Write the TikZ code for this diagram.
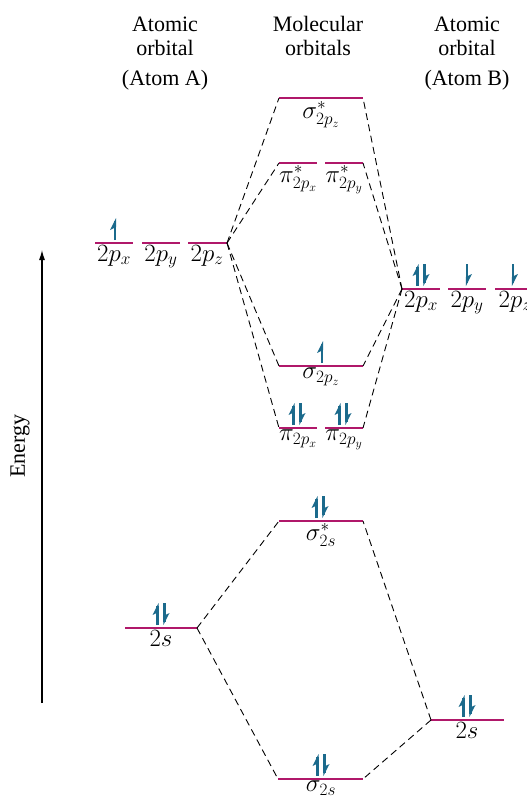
\documentclass[tikz,border=0pt]{standalone}
\usepackage{fontspec}
\setmainfont{Liberation Serif}
\usetikzlibrary{arrows.meta}
\definecolor{lvl}{HTML}{B0186A}
\definecolor{elec}{HTML}{1B6A8C}
\tikzset{
  x=1pt, y=-1pt,
  level/.style={draw=lvl, line width=2pt},
  link/.style={draw=black, line width=0.9pt, dash pattern=on 7pt off 4.5pt},
  hdr/.style={anchor=base, font=\fontsize{22}{25}\selectfont, inner sep=0pt},
  lab/.style={anchor=north, font=\fontsize{24}{27}\selectfont, inner sep=1pt},
  pics/eup/.style={code={
    \draw[elec, line width=2.2pt] (0,-2) -- (0,-21);
    \fill[elec] (1.1,-24) -- (-5,-12) -- (1.1,-15) -- cycle;
  }},
  pics/edown/.style={code={
    \draw[elec, line width=2.2pt] (0,-24) -- (0,-5);
    \fill[elec] (-1.1,-2) -- (5,-14) -- (-1.1,-11) -- cycle;
  }},
  pics/epair/.style={code={
    \pic at (-3.5,0) {eup};
    \pic at (3.5,0) {edown};
  }},
}
\begin{document}
\begin{tikzpicture}
\useasboundingbox (0,0) rectangle (527,803);
% headers
\node[hdr] (hA1) at (165,31) {Atomic};
\node[hdr] (hA2) at (165,55) {orbital};
\node[hdr] (hA3) at (165,85) {(Atom A)};
\node[hdr] (hM1) at (318,31) {Molecular};
\node[hdr] (hM2) at (318,55) {orbitals};
\node[hdr] (hB1) at (467,31) {Atomic};
\node[hdr] (hB2) at (467,55) {orbital};
\node[hdr] (hB3) at (467,85) {(Atom B)};
% energy axis
\coordinate (eb) at (42,703);
\coordinate (et) at (42,250);
\draw[line width=1.1pt, -{Latex[length=10pt,width=6pt]}] (eb) -- (et);
\node[rotate=90, font=\fontsize{22}{25}\selectfont] (energy) at (20,446) {Energy};
% left 2p
\draw[level] (95,243) coordinate (lpx1) -- (133,243) coordinate (lpx2);
\draw[level] (142,243) coordinate (lpy1) -- (180,243) coordinate (lpy2);
\draw[level] (188,243) coordinate (lpz1) -- (227,243) coordinate (lpz2);
\node[lab] (llx) at (114,244) {$2p_x$};
\node[lab] (lly) at (161,244) {$2p_y$};
\node[lab] (llz) at (207,244) {$2p_z$};
\pic at (115,242) {eup};
% right 2p
\draw[level] (402,289) coordinate (rpx1) -- (440,289) coordinate (rpx2);
\draw[level] (448,289) coordinate (rpy1) -- (486,289) coordinate (rpy2);
\draw[level] (495,289) coordinate (rpz1) -- (533,289) coordinate (rpz2);
\node[lab] (rlx) at (421,290) {$2p_x$};
\node[lab] (rly) at (467,290) {$2p_y$};
\node[lab] (rlz) at (515,290) {$2p_z$};
\pic at (421,288) {epair};
\pic at (467,288) {edown};
\pic at (513,288) {edown};
% sigma* 2pz
\draw[level] (279,98) coordinate (ss1) -- (363,98) coordinate (ss2);
\node[lab] (lss) at (321,100) {$\sigma^*_{2p_z}$};
% pi* 2p
\draw[level] (279,163) coordinate (psx1) -- (317,163) coordinate (psx2);
\draw[level] (325,163) coordinate (psy1) -- (363,163) coordinate (psy2);
\node[lab] (lpsx) at (298,164) {$\pi^*_{2p_x}$};
\node[lab] (lpsy) at (344,164) {$\pi^*_{2p_y}$};
% sigma 2pz
\draw[level] (279,366) coordinate (sz1) -- (363,366) coordinate (sz2);
\node[lab] (lsz) at (321,367) {$\sigma_{2p_z}$};
\pic at (322,365) {eup};
% pi 2p
\draw[level] (279,428) coordinate (px1) -- (317,428) coordinate (px2);
\draw[level] (325,428) coordinate (py1) -- (363,428) coordinate (py2);
\node[lab] (lpx) at (298,429) {$\pi_{2p_x}$};
\node[lab] (lpy) at (344,429) {$\pi_{2p_y}$};
\pic at (297,427) {epair};
\pic at (343,427) {epair};
% sigma* 2s
\draw[level] (279,521) coordinate (s2s1) -- (363,521) coordinate (s2s2);
\node[lab] (ls2s) at (321,522) {$\sigma^*_{2s}$};
\pic at (320,520) {epair};
% left 2s
\draw[level] (125,628) coordinate (l2s1) -- (197,628) coordinate (l2s2);
\node[lab] (ll2s) at (161,629) {$2s$};
\pic at (161,627) {epair};
% right 2s
\draw[level] (431,720) coordinate (r2s1) -- (504,720) coordinate (r2s2);
\node[lab] (lr2s) at (467,721) {$2s$};
\pic at (467,719) {epair};
% sigma 2s
\draw[level] (278,779) coordinate (b2s1) -- (363,779) coordinate (b2s2);
\node[lab] (lb2s) at (321,780) {$\sigma_{2s}$};
\pic at (321,778) {epair};
% correlation lines
\draw[link] (lpz2) -- (ss1);
\draw[link] (lpz2) -- (psx1);
\draw[link] (lpz2) -- (sz1);
\draw[link] (lpz2) -- (px1);
\draw[link] (rpx1) -- (ss2);
\draw[link] (rpx1) -- (psy2);
\draw[link] (rpx1) -- (sz2);
\draw[link] (rpx1) -- (py2);
\draw[link] (l2s2) -- (s2s1);
\draw[link] (l2s2) -- (b2s1);
\draw[link] (r2s1) -- (s2s2);
\draw[link] (r2s1) -- (b2s2);
\end{tikzpicture}
\end{document}
